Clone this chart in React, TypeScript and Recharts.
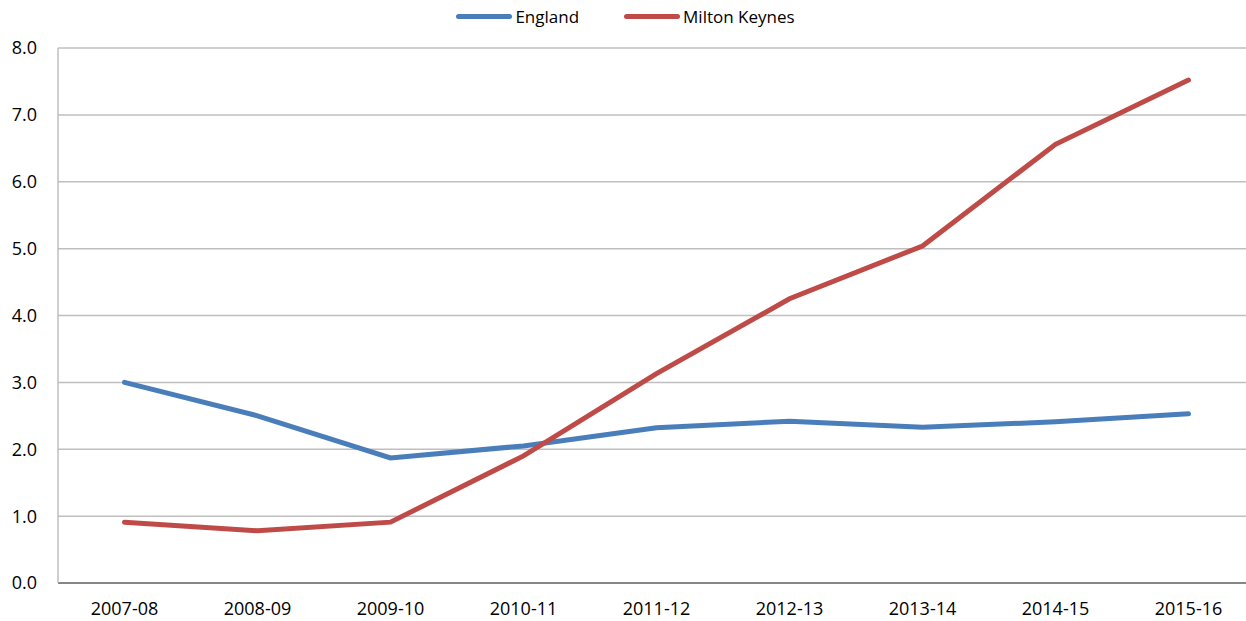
import React from 'react';
import { LineChart, Line, XAxis, YAxis, CartesianGrid, Legend } from 'recharts';

const years = ['2007-08', '2008-09', '2009-10', '2010-11', '2011-12', '2012-13', '2013-14', '2014-15', '2015-16'];
const england = [3.0, 2.5, 1.87, 2.05, 2.32, 2.42, 2.33, 2.41, 2.53];
const miltonKeynes = [0.91, 0.78, 0.91, 1.9, 3.13, 4.25, 5.04, 6.56, 7.52];
const yTicks = [0, 1, 2, 3, 4, 5, 6, 7, 8];

const data = years.map((year, i) => ({ year, england: england[i], miltonKeynes: miltonKeynes[i] }));

const FONT = '"Open Sans", sans-serif';

const legendItems = [
    { label: 'England', color: '#4a7ebb' },
    { label: 'Milton Keynes', color: '#be4b48' },
];

const TopLegend = () => (
    <div style={{ display: 'flex', justifyContent: 'center', alignItems: 'center', fontFamily: FONT, fontSize: 17, color: '#000' }}>
        {legendItems.map((item) => (
            <div key={item.label} style={{ display: 'flex', alignItems: 'center', marginRight: 45 }}>
                <div style={{ width: 56, height: 5, borderRadius: 3, background: item.color, marginRight: 3 }} />
                <span>{item.label}</span>
            </div>
        ))}
    </div>
);

const App: React.FC = () => {
    return (
        <div style={{ position: 'absolute', left: 0, top: 0, width: 1246, height: 621, overflow: 'hidden', background: '#fff' }}>
            <LineChart width={1255} height={621} data={data} margin={{ top: 48, right: 0, bottom: 0, left: 0 }}>
                <CartesianGrid vertical={false} stroke="#bfbfbf" strokeWidth={1.5} />
                <XAxis
                    dataKey="year"
                    height={38}
                    padding={{ left: 66.5, right: 66.5 }}
                    tickLine={false}
                    tickSize={8}
                    tickMargin={11}
                    stroke="#868686"
                    strokeWidth={2}
                    tick={{ fill: '#000', fontSize: 18, fontFamily: FONT }}
                />
                <YAxis
                    width={58}
                    domain={[0, 8]}
                    ticks={yTicks}
                    tickFormatter={(v: number) => v.toFixed(1)}
                    tickLine={false}
                    tickSize={8}
                    tickMargin={13}
                    stroke="#bfbfbf"
                    strokeWidth={1.5}
                    tick={{ fill: '#000', fontSize: 18, fontFamily: FONT }}
                />
                <Legend
                    verticalAlign="middle"
                    content={<TopLegend />}
                    wrapperStyle={{ position: 'absolute', top: 5, left: 25, width: 1246 }}
                />
                <Line dataKey="england" stroke="#4a7ebb" strokeWidth={5} dot={false} isAnimationActive={false} strokeLinecap="round" />
                <Line dataKey="miltonKeynes" stroke="#be4b48" strokeWidth={5} dot={false} isAnimationActive={false} strokeLinecap="round" />
            </LineChart>
        </div>
    );
};

export default App;
